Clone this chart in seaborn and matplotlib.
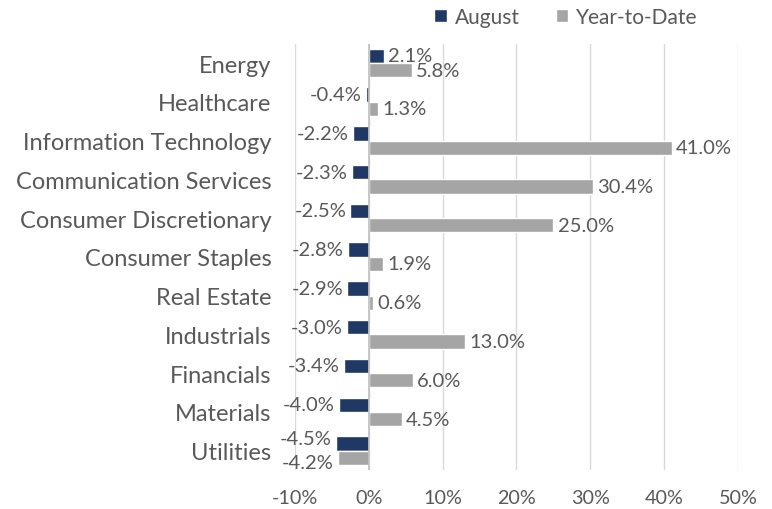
import numpy as np
import pandas as pd
import seaborn as sns
import matplotlib.pyplot as plt

# данные с картинки
sectors = ["Energy", "Healthcare", "Information Technology", "Communication Services",
           "Consumer Discretionary", "Consumer Staples", "Real Estate", "Industrials",
           "Financials", "Materials", "Utilities"]
august = [2.1, -0.4, -2.2, -2.3, -2.5, -2.8, -2.9, -3.0, -3.4, -4.0, -4.5]
ytd = [5.8, 1.3, 41.0, 30.4, 25.0, 1.9, 0.6, 13.0, 6.0, 4.5, -4.2]
series = ["August", "Year-to-Date"]
colours = ["#203864", "#A5A5A5"]
xticks = [-10, 0, 10, 20, 30, 40, 50]

df = pd.DataFrame({
    "sector": sectors * 2,
    "value": august + ytd,
    "series": [series[0]] * len(sectors) + [series[1]] * len(sectors),
})

sns.set_style("white")
plt.rcParams["font.family"] = ["Lato", "DejaVu Sans"]
text_col = "#595959"

fig = plt.figure(figsize=(7.72, 5.10), dpi=100)
ax = fig.add_axes([0.382, 0.0765, 0.574, 0.836])

sns.barplot(data=df, x="value", y="sector", hue="series", order=sectors,
            hue_order=series, palette=colours, orient="h", width=0.74,
            saturation=1, ax=ax, legend=True, zorder=3)

# подписи значений
all_labels = []
for cont in ax.containers:
    labels = [f"{v:.1f}%" for v in cont.datavalues]
    all_labels.append(ax.bar_label(cont, labels=labels, padding=3, fontsize=14.5, color=text_col))

# если обе подписи слева от нуля - раздвигаем их по вертикали, как в Excel
for i in range(len(sectors)):
    if august[i] < 0 and ytd[i] < 0:
        a, b = all_labels[0][i], all_labels[1][i]
        a.xyann = (a.xyann[0], a.xyann[1] + 3.5)
        b.xyann = (b.xyann[0], b.xyann[1] - 3.5)

ax.set_xlim(-10, 50)
ax.set_xticks(xticks)
ax.set_xticklabels([f"{t}%" for t in xticks], fontsize=14.2, color=text_col)
ax.tick_params(axis="x", length=0, pad=14)
ax.tick_params(axis="y", length=0, pad=17)
ax.set_yticklabels(sectors, fontsize=17, color=text_col)
ax.set_xlabel("")
ax.set_ylabel("")

ax.grid(axis="x", color="#D9D9D9", linewidth=1, zorder=0)
ax.grid(axis="y", visible=False)
for s in ax.spines.values():
    s.set_visible(False)
ax.axvline(0, color="#BFBFBF", linewidth=1.2, zorder=4)

ax.legend(loc="center", bbox_to_anchor=(0.612, 1.063), ncol=2, frameon=False,
          fontsize=15, labelcolor=text_col, handlelength=0.6, handleheight=0.6,
          columnspacing=1.7, handletextpad=0.4, borderaxespad=0)

plt.savefig("out.png", dpi=100)
